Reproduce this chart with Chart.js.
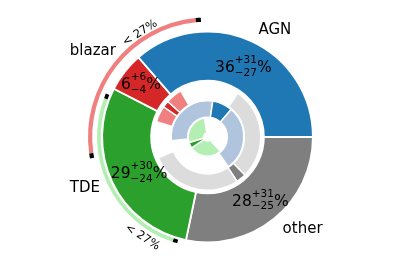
<!DOCTYPE html>
<html>
<head>
<meta charset="utf-8">
<script src="https://cdn.jsdelivr.net/npm/chart.js@4.4.1/dist/chart.umd.min.js"></script>
<style>
  html, body { margin: 0; padding: 0; background: #fff; }
  canvas { display: block; }
</style>
</head>
<body>
<canvas id="chart" width="415" height="277"></canvas>
<script>
// classes in matplotlib order (counter-clockwise from 3 o'clock)
const classes = ['AGN', 'blazar', 'TDE', 'other'];
const share = [36, 6, 29, 28];            // median, %
const errPlus = [31, 6, 30, 31];
const errMinus = [27, 4, 24, 25];
const upperLimit = [null, 27, 27, null];  // the "< 27%" arcs
const rangeRing = [1, 0, 2, 0];           // inner ring that carries each class's range

const dark = ['#1f77b4', '#d62728', '#2ca02c', '#7f7f7f'];
const light = ['#b0c4de', '#f08080', '#b3eeb3', '#dcdcdc'];
const CLEAR = 'rgba(0,0,0,0)';
const FONT = '"DejaVu Sans", Verdana, sans-serif';

// slice centres in % of the circle, clockwise from 3 o'clock (Chart.js goes clockwise)
const total = share.reduce((a, b) => a + b, 0);
const centre = [];
const sliceFrom = [];
let acc = 0;
share.forEach(s => {
  const f = s / total * 100;
  centre.push(100 - (acc + f / 2));
  sliceFrom.push(100 - (acc + f));
  acc += f;
});

// one ring = sorted pieces + transparent gaps, rotated so the first piece starts the ring
function buildRing(pieces, border, weight) {
  pieces.sort((a, b) => a.from - b.from);
  const start = pieces[0].from;
  const data = [], bg = [], bw = [], keys = {};
  let pos = start;
  pieces.forEach(p => {
    if (p.from - pos > 1e-6) { data.push(p.from - pos); bg.push(CLEAR); bw.push(0); }
    if (p.key !== undefined) keys[p.key] = data.length;
    data.push(p.to - p.from); bg.push(p.color); bw.push(border);
    pos = p.to;
  });
  if (start + 100 - pos > 1e-6) { data.push(start + 100 - pos); bg.push(CLEAR); bw.push(0); }
  return {
    data, backgroundColor: bg, borderWidth: bw, borderColor: '#fff',
    rotation: 90 + start * 3.6, weight, keys
  };
}

function spacer(weight) {
  return { data: [1], backgroundColor: [CLEAR], borderWidth: 0, weight };
}

function rangePieces(i) {
  const c = centre[i];
  const lo = (share[i] - errMinus[i]) / 2;
  const hi = (share[i] + errPlus[i]) / 2;
  return [
    { from: c - hi, to: c - lo, color: light[i] },
    { from: c - lo, to: c + lo, color: dark[i] },
    { from: c + lo, to: c + hi, color: light[i] }
  ];
}

function limitPieces(i) {
  const c = centre[i], h = upperLimit[i] / 2, cap = 0.7;
  return [
    { from: c - h, to: c - h + cap, color: '#000' },
    { from: c - h + cap, to: c + h - cap, color: light[i], key: i },
    { from: c + h - cap, to: c + h, color: '#000' }
  ];
}

const limitIdx = [], datasets = [];
datasets.push(spacer(0.5));
const limitWeights = [4.2, 3.7], limitGaps = [4.8, 1.4];
classes.map((_, i) => i).filter(i => upperLimit[i] !== null).forEach((i, k) => {
  limitIdx.push([i, datasets.length]);
  datasets.push(buildRing(limitPieces(i), 0, limitWeights[k]));
  datasets.push(spacer(limitGaps[k]));
});

const PIE = datasets.length;
datasets.push(buildRing(classes.map((c, i) => ({
  from: sliceFrom[i], to: sliceFrom[i] + share[i] / total * 100, color: dark[i], key: i
})), 1.8, 48.9));

const ringWeights = [16.4, 16.4, 15.2], ringGaps = [3.1, 0.6, 0.6];
[0, 1, 2].forEach(r => {
  datasets.push(spacer(ringGaps[r]));
  const pieces = [];
  classes.forEach((c, i) => { if (rangeRing[i] === r) pieces.push(...rangePieces(i)); });
  datasets.push(buildRing(pieces, 1.5, ringWeights[r]));
});

// label placement tweaks
const nameNudge = { AGN: [1.5, 1], blazar: [2, -12] };
const pctDist = { blazar: 0.84 };
const pctShift = [3, 1.5];
const limitText = { blazar: { deg: 123, dr: 4.5 }, TDE: { deg: 237, dr: 9 } };

function drawPct(ctx, x, y, i) {
  const big = '15.5px ' + FONT, small = '10.5px ' + FONT;
  const sup = '+' + errPlus[i], sub = '\u2212' + errMinus[i], num = String(share[i]);
  ctx.font = big;
  const wn = ctx.measureText(num).width, wp = ctx.measureText('%').width;
  ctx.font = small;
  const ws = Math.max(ctx.measureText(sup).width, ctx.measureText(sub).width);
  const x0 = x - (wn + ws + wp) / 2, base = y + 5.7;
  ctx.textAlign = 'left';
  ctx.textBaseline = 'alphabetic';
  ctx.font = big;
  ctx.fillText(num, x0, base);
  ctx.fillText('%', x0 + wn + ws, base);
  ctx.font = small;
  ctx.fillText(sup, x0 + wn, base - 9);
  ctx.fillText(sub, x0 + wn, base + 3.6);
}

const textPlugin = {
  id: 'pieText',
  afterDatasetsDraw(chart) {
    const ctx = chart.ctx;
    const pie = chart.data.datasets[PIE];
    const meta = chart.getDatasetMeta(PIE);
    ctx.save();
    ctx.fillStyle = '#000';
    classes.forEach((name, i) => {
      const arc = meta.data[pie.keys[i]];
      const { x, y, startAngle, endAngle, outerRadius } = arc.getProps(['x', 'y', 'startAngle', 'endAngle', 'outerRadius']);
      const a = (startAngle + endAngle) / 2;
      const cos = Math.cos(a), sin = Math.sin(a);
      // class name
      const nd = nameNudge[name] || [0, 0];
      ctx.font = '15px ' + FONT;
      ctx.textAlign = cos > 0 ? 'left' : 'right';
      ctx.textBaseline = 'middle';
      ctx.fillText(name, x + 1.13 * outerRadius * cos + nd[0], y + 1.13 * outerRadius * sin + nd[1]);
      // median with errors
      const pd = (pctDist[name] || 0.75) * outerRadius;
      drawPct(ctx, x + pd * cos + pctShift[0], y + pd * sin + pctShift[1], i);
    });
    // "< 27%" along the limit arcs
    limitIdx.forEach(([i, ds]) => {
      const el = chart.getDatasetMeta(ds).data[chart.data.datasets[ds].keys[i]];
      const { x, y, outerRadius } = el.getProps(['x', 'y', 'outerRadius']);
      const t = limitText[classes[i]];
      const r = outerRadius + t.dr, a = -t.deg * Math.PI / 180;
      let rot = t.deg - 90;
      if (rot > 90) rot -= 180;
      if (rot <= -90) rot += 180;
      ctx.save();
      ctx.translate(x + r * Math.cos(a), y + r * Math.sin(a));
      ctx.rotate(-rot * Math.PI / 180);
      ctx.font = '11.5px ' + FONT;
      ctx.textAlign = 'center';
      ctx.textBaseline = 'middle';
      ctx.fillText('< ' + upperLimit[i] + '%', 0, 0);
      ctx.restore();
    });
    ctx.restore();
  }
};

new Chart(document.getElementById('chart'), {
  type: 'doughnut',
  data: { labels: datasets[PIE].data.map((_, k) => k), datasets },
  options: {
    responsive: false,
    animation: false,
    devicePixelRatio: 1,
    events: [],
    radius: 120,
    cutout: (4 / 120 * 100) + '%',
    layout: { padding: { bottom: 3 } },
    plugins: { legend: { display: false }, tooltip: { enabled: false } }
  },
  plugins: [textPlugin]
});
</script>
</body>
</html>
